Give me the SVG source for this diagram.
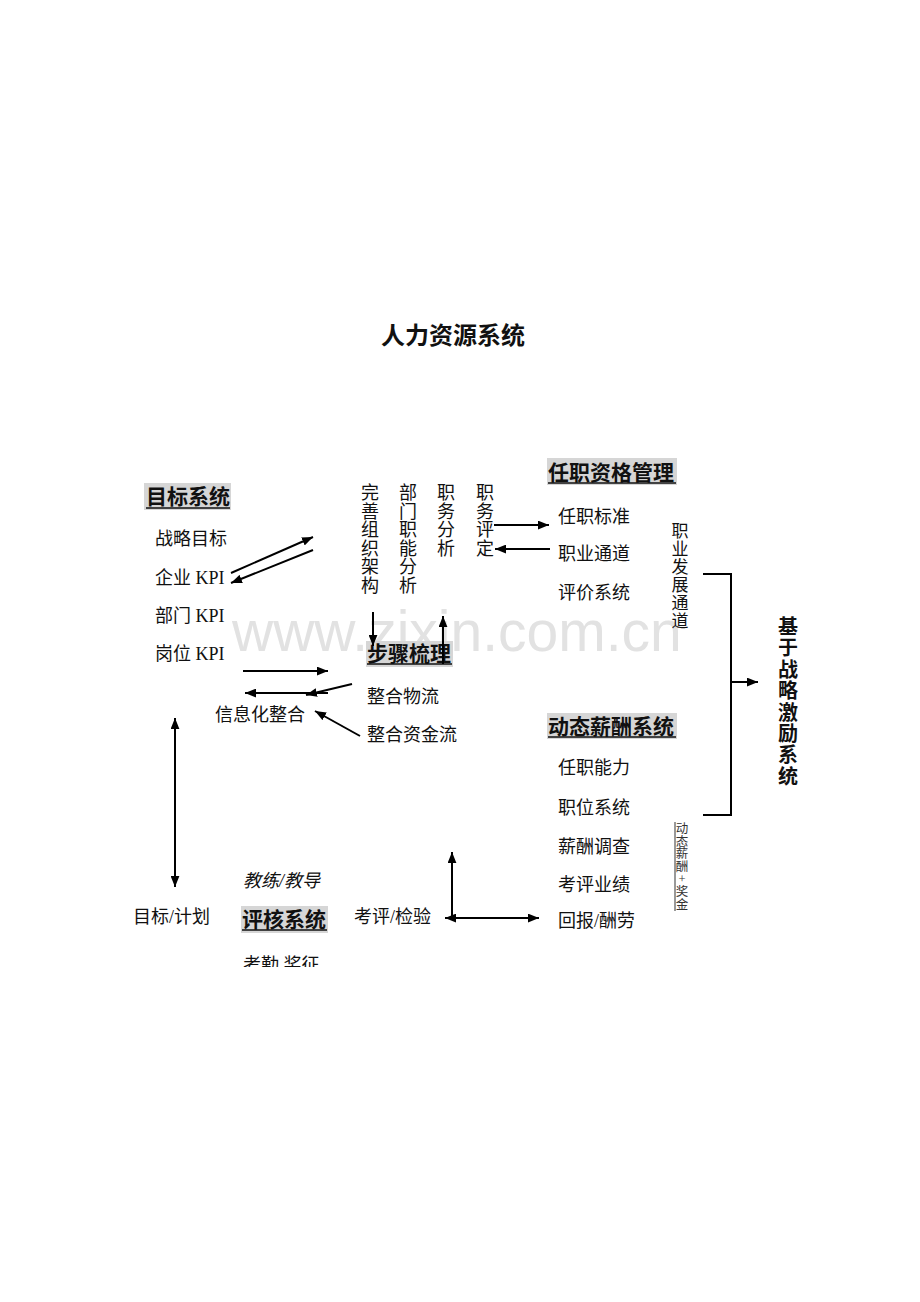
<svg xmlns="http://www.w3.org/2000/svg" width="920" height="1302" viewBox="0 0 920 1302">
<style>
.t{font-family:"Liberation Serif","Noto Sans CJK SC",serif;font-size:18px;fill:#111}
.h{font-family:"Noto Sans CJK SC",sans-serif;font-size:21px;font-weight:bold;fill:#111}
.hb{fill:#d6d6d6}
.ul{stroke:#111;stroke-width:1.5}
.ln{stroke:#000;stroke-width:2;fill:none}
.v{font-family:"Liberation Serif","Noto Sans CJK SC",serif;font-size:18px;fill:#111;text-anchor:middle}
.wm{font-family:"Liberation Sans",Arial,sans-serif;font-size:57px;fill:#e2e2e2}
</style>
<defs>
<marker id="ah" viewBox="0 0 10 8" refX="10" refY="4" markerWidth="11" markerHeight="9" orient="auto-start-reverse" markerUnits="userSpaceOnUse"><path d="M0,0 L10,4 L0,8 z" fill="#000"/></marker>
<clipPath id="clipb"><rect x="230" y="940" width="120" height="27"/></clipPath>
</defs>
<rect width="920" height="1302" fill="#fff"/>
<text class="wm" x="232" y="651">www.zixin.com.cn</text>
<text x="453" y="344" text-anchor="middle" style="font-family:'Noto Sans CJK SC',sans-serif;font-size:24px;font-weight:bold;fill:#111">人力资源系统</text>

<g id="goal">
<rect class="hb" x="144" y="483" width="87" height="27"/>
<text class="h" x="146" y="504">目标系统</text>
<line class="ul" x1="146" y1="508" x2="230" y2="508"/>
<text class="t" x="155" y="545">战略目标</text>
<text class="t" x="155" y="584">企业 KPI</text>
<text class="t" x="155" y="622">部门 KPI</text>
<text class="t" x="155" y="660">岗位 KPI</text>
</g>

<g id="columns">
<text class="v"><tspan x="370" y="499">完</tspan><tspan x="370" y="517.5">善</tspan><tspan x="370" y="536">组</tspan><tspan x="370" y="554.5">织</tspan><tspan x="370" y="573">架</tspan><tspan x="370" y="591.5">构</tspan></text>
<text class="v"><tspan x="408" y="499">部</tspan><tspan x="408" y="517.5">门</tspan><tspan x="408" y="536">职</tspan><tspan x="408" y="554.5">能</tspan><tspan x="408" y="573">分</tspan><tspan x="408" y="591.5">析</tspan></text>
<text class="v"><tspan x="446" y="499">职</tspan><tspan x="446" y="517.5">务</tspan><tspan x="446" y="536">分</tspan><tspan x="446" y="554.5">析</tspan></text>
<text class="v"><tspan x="485" y="499">职</tspan><tspan x="485" y="517.5">务</tspan><tspan x="485" y="536">评</tspan><tspan x="485" y="554.5">定</tspan></text>
</g>

<g id="qual">
<rect class="hb" x="547" y="458" width="130" height="27"/>
<text class="h" x="548" y="480">任职资格管理</text>
<line class="ul" x1="548" y1="483" x2="676" y2="483"/>
<text class="t" x="558" y="523">任职标准</text>
<text class="t" x="558" y="560">职业通道</text>
<text class="t" x="558" y="599">评价系统</text>
<text class="v" style="font-size:17px"><tspan x="680" y="537">职</tspan><tspan x="680" y="555">业</tspan><tspan x="680" y="573">发</tspan><tspan x="680" y="591">展</tspan><tspan x="680" y="609">通</tspan><tspan x="680" y="627">道</tspan></text>
</g>

<g id="steps">
<rect class="hb" x="366" y="641" width="87" height="26"/>
<text class="h" x="367" y="661">步骤梳理</text>
<line class="ul" x1="367" y1="664" x2="452" y2="664"/>
<text class="t" x="367" y="703">整合物流</text>
<text class="t" x="367" y="741">整合资金流</text>
</g>

<g id="info">
<text class="t" x="215" y="721">信息化整合</text>
</g>

<g id="pay">
<rect class="hb" x="547" y="713" width="130" height="26"/>
<text class="h" x="548" y="734">动态薪酬系统</text>
<line class="ul" x1="548" y1="737" x2="676" y2="737"/>
<text class="t" x="558" y="774">任职能力</text>
<text class="t" x="558" y="814">职位系统</text>
<text class="t" x="558" y="853">薪酬调查</text>
<text class="t" x="558" y="891">考评业绩</text>
<text class="t" x="558" y="927">回报/酬劳</text>
<line x1="675" y1="822" x2="675" y2="911" stroke="#777" stroke-width="1.5"/>
<text class="v" style="font-size:12.5px;fill:#333"><tspan x="682" y="833">动</tspan><tspan x="682" y="845.6">态</tspan><tspan x="682" y="858.2">薪</tspan><tspan x="682" y="870.8">酬</tspan><tspan x="682" y="883.4">+</tspan><tspan x="682" y="896">奖</tspan><tspan x="682" y="908.6">金</tspan></text>
</g>

<g id="strategy">
<text class="v" style="font-family:'Noto Sans CJK SC',sans-serif;font-size:20px;font-weight:bold"><tspan x="788" y="634">基</tspan><tspan x="788" y="655.4">于</tspan><tspan x="788" y="676.8">战</tspan><tspan x="788" y="698.2">略</tspan><tspan x="788" y="719.6">激</tspan><tspan x="788" y="741">励</tspan><tspan x="788" y="762.4">系</tspan><tspan x="788" y="783.8">统</tspan></text>
</g>

<g id="review">
<text class="t" x="133" y="923">目标/计划</text>
<text class="t" x="243" y="887" style="font-style:italic">教练/教导</text>
<rect class="hb" x="241" y="906" width="87" height="27"/>
<text class="h" x="242" y="927">评核系统</text>
<line class="ul" x1="242" y1="930" x2="327" y2="930"/>
<text class="t" x="354" y="923">考评/检验</text>
<text class="t" x="243" y="971" clip-path="url(#clipb)">考勤 奖征</text>
</g>

<g id="connectors">
<line class="ln" x1="231" y1="573" x2="313" y2="537" marker-end="url(#ah)"/>
<line class="ln" x1="313" y1="550" x2="231" y2="583" marker-end="url(#ah)"/>
<line class="ln" x1="494" y1="525" x2="549" y2="525" marker-end="url(#ah)"/>
<line class="ln" x1="550" y1="549" x2="495" y2="549" marker-end="url(#ah)"/>
<line class="ln" x1="373" y1="612" x2="373" y2="646" marker-end="url(#ah)"/>
<line class="ln" x1="443" y1="664" x2="443" y2="616" marker-end="url(#ah)"/>
<line class="ln" x1="243" y1="671" x2="328" y2="671" marker-end="url(#ah)"/>
<line class="ln" x1="328" y1="693" x2="245" y2="693" marker-end="url(#ah)"/>
<line class="ln" x1="352" y1="684" x2="306" y2="695" marker-end="url(#ah)"/>
<line class="ln" x1="360" y1="736" x2="315" y2="711" marker-end="url(#ah)"/>
<line class="ln" x1="175" y1="718" x2="175" y2="887" marker-start="url(#ah)" marker-end="url(#ah)"/>
<line class="ln" x1="452" y1="918" x2="452" y2="852" marker-end="url(#ah)"/>
<line class="ln" x1="445" y1="918" x2="539" y2="918" marker-start="url(#ah)" marker-end="url(#ah)"/>
<polyline class="ln" points="703,574 731,574 731,815 703,815"/>
<line class="ln" x1="731" y1="682" x2="758" y2="682" marker-end="url(#ah)"/>
</g>
</svg>
